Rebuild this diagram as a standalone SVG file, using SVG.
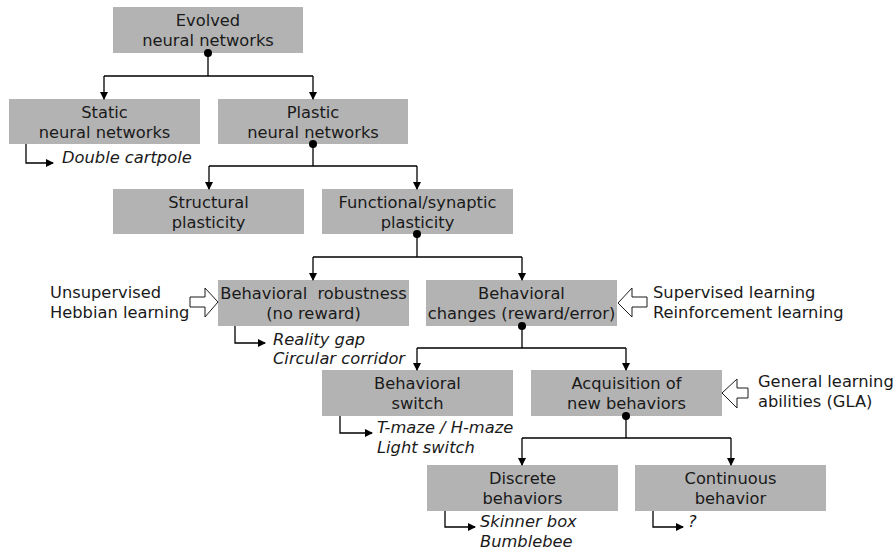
<svg xmlns="http://www.w3.org/2000/svg" width="896" height="555" viewBox="0 0 896 555">
<style>
.box{fill:#b3b3b3}
text{font-family:"DejaVu Sans","Liberation Sans",sans-serif;font-size:16.3px;fill:#1a1a1a}
.c{text-anchor:middle}
.i{font-style:italic}
.ln{fill:none;stroke:#000;stroke-width:1.3}
.dot{fill:#000}
.ha{fill:#fff;stroke:#1a1a1a;stroke-width:1}
</style>
<defs>
<marker id="ah" markerWidth="8" markerHeight="8" refX="7" refY="4" orient="auto" markerUnits="userSpaceOnUse">
<path d="M0,0 L8,4 L0,8 Z" fill="#000"/>
</marker>
</defs>
<rect width="896" height="555" fill="#fff"/>

<g id="evolved"><rect class="box" x="113" y="7" width="190" height="46"/><text class="c" x="208" y="26">Evolved</text><text class="c" x="208" y="46">neural networks</text></g>
<g id="static"><rect class="box" x="9" y="99" width="191" height="45"/><text class="c" x="104.5" y="118">Static</text><text class="c" x="104.5" y="138">neural networks</text></g>
<g id="plastic"><rect class="box" x="218" y="99" width="190" height="45"/><text class="c" x="313" y="118">Plastic</text><text class="c" x="313" y="138">neural networks</text></g>
<g id="structural"><rect class="box" x="113" y="189" width="191" height="45"/><text class="c" x="208.5" y="208">Structural</text><text class="c" x="208.5" y="228">plasticity</text></g>
<g id="functional"><rect class="box" x="322" y="189" width="191" height="45"/><text class="c" x="417.5" y="208">Functional/synaptic</text><text class="c" x="417.5" y="228">plasticity</text></g>
<g id="robustness"><rect class="box" x="218" y="280" width="191" height="46"/><text class="c" x="313.5" y="299" style="white-space:pre">Behavioral  robustness</text><text class="c" x="313.5" y="319">(no reward)</text></g>
<g id="changes"><rect class="box" x="426" y="280" width="191" height="46"/><text class="c" x="521.5" y="299">Behavioral</text><text class="c" x="521.5" y="319">changes (reward/error)</text></g>
<g id="switch"><rect class="box" x="322" y="370" width="191" height="46"/><text class="c" x="417.5" y="389">Behavioral</text><text class="c" x="417.5" y="409">switch</text></g>
<g id="acquisition"><rect class="box" x="531" y="370" width="191" height="46"/><text class="c" x="626.5" y="389">Acquisition of</text><text class="c" x="626.5" y="409">new behaviors</text></g>
<g id="discrete"><rect class="box" x="427" y="465" width="191" height="46"/><text class="c" x="522.5" y="484">Discrete</text><text class="c" x="522.5" y="504">behaviors</text></g>
<g id="continuous"><rect class="box" x="635" y="465" width="191" height="46"/><text class="c" x="730.5" y="484">Continuous</text><text class="c" x="730.5" y="504">behavior</text></g>

<g id="connectors">
<circle class="dot" cx="208" cy="53" r="4"/>
<path class="ln" d="M208,53 V76 M104,76 H313" />
<path class="ln" d="M104,76 V99" marker-end="url(#ah)"/>
<path class="ln" d="M313,76 V99" marker-end="url(#ah)"/>
<circle class="dot" cx="313" cy="144" r="4"/>
<path class="ln" d="M313,144 V166 M209,166 H417"/>
<path class="ln" d="M209,166 V189" marker-end="url(#ah)"/>
<path class="ln" d="M417,166 V189" marker-end="url(#ah)"/>
<circle class="dot" cx="417" cy="234" r="4"/>
<path class="ln" d="M417,234 V257 M313,257 H522"/>
<path class="ln" d="M313,257 V280" marker-end="url(#ah)"/>
<path class="ln" d="M522,257 V280" marker-end="url(#ah)"/>
<circle class="dot" cx="522" cy="326" r="4"/>
<path class="ln" d="M522,326 V348 M417,348 H626"/>
<path class="ln" d="M417,348 V370" marker-end="url(#ah)"/>
<path class="ln" d="M626,348 V370" marker-end="url(#ah)"/>
<circle class="dot" cx="626" cy="416" r="4"/>
<path class="ln" d="M626,416 V438 M522,438 H731"/>
<path class="ln" d="M522,438 V465" marker-end="url(#ah)"/>
<path class="ln" d="M731,438 V465" marker-end="url(#ah)"/>
<path class="ln" d="M26,144 V163 H53" marker-end="url(#ah)"/>
<path class="ln" d="M235,326 V343 H265" marker-end="url(#ah)"/>
<path class="ln" d="M340,416 V433 H372" marker-end="url(#ah)"/>
<path class="ln" d="M445,511 V527 H475" marker-end="url(#ah)"/>
<path class="ln" d="M653,511 V527 H683" marker-end="url(#ah)"/>
<path class="ha" d="M190,297 H205 V288 L218,302 L205,317 V307 H190 Z"/>
<path class="ha" d="M647,297 H632 V288 L618,303 L632,317 V307 H647 Z"/>
<path class="ha" d="M748,388 H737 V379 L722,393 L737,408 V398 H748 Z"/>
</g>

<text class="i" x="62" y="163">Double cartpole</text>
<text class="i" x="273" y="345">Reality gap</text>
<text class="i" x="273" y="364">Circular corridor</text>
<text class="i" x="377" y="433">T-maze / H-maze</text>
<text class="i" x="377" y="453">Light switch</text>
<text class="i" x="480" y="527">Skinner box</text>
<text class="i" x="480" y="547">Bumblebee</text>
<text class="i" x="688" y="527">?</text>
<text x="50" y="298">Unsupervised</text>
<text x="50" y="318">Hebbian learning</text>
<text x="653" y="298">Supervised learning</text>
<text x="653" y="318">Reinforcement learning</text>
<text x="758" y="387">General learning</text>
<text x="758" y="407">abilities (GLA)</text>
</svg>
